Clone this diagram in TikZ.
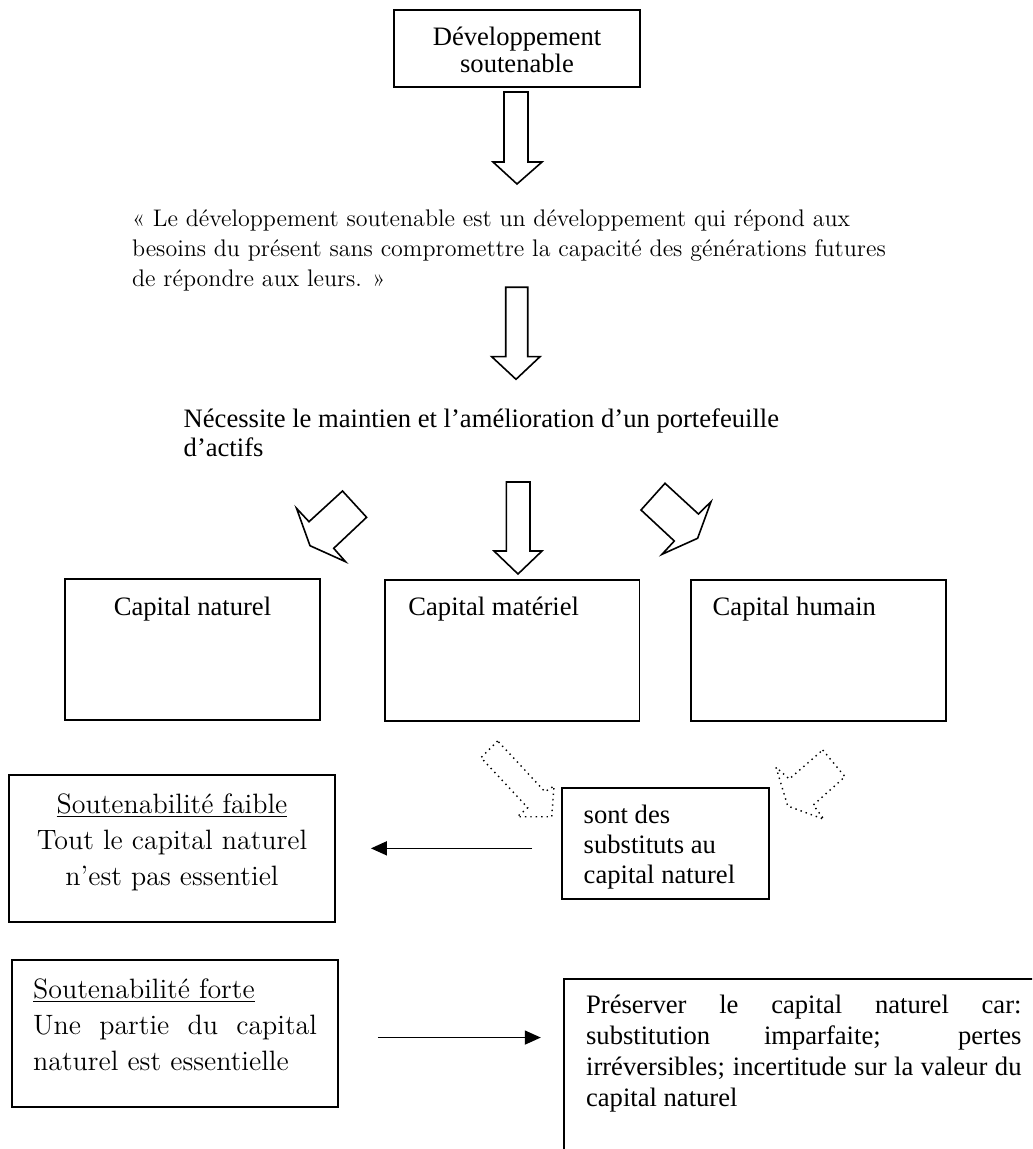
\documentclass[tikz,border=0pt]{standalone}
\usepackage{fontspec}
\usepackage{tikz}
\usetikzlibrary{arrows.meta,fit}
\newfontfamily\timesfont{Liberation Serif}

\tikzset{
  boite/.style={draw, line width=0.9pt, inner sep=0pt},
  bloc/.style={draw, line width=0.8pt, line join=miter},
  blocpoint/.style={draw, line width=0.7pt, dotted},
  fleche/.style={line width=0.8pt, -{Triangle[length=8pt,width=7pt]}},
  txt/.style={inner sep=0pt, font=\timesfont\fontsize{13.3}{15}\selectfont},
  gara/.style={inner sep=0pt, font=\fontsize{12}{15}\selectfont},
  garagros/.style={inner sep=0pt, font=\fontsize{14}{18}\selectfont},
}

\begin{document}
\begin{tikzpicture}[x=0.5pt, y=-0.5pt]
        \useasboundingbox (0,0) rectangle (1032,1149);
        % boites
        \node [boite, fit={(394,10) (640,87)}] (dev) {};
        \node [boite, fit={(65,579) (320,720)}] (naturel) {};
        \node [boite, fit={(385,580) (639.5,720.7)}] (materiel) {};
        \node [boite, fit={(690.7,580) (946,720.7)}] (humain) {};
        \node [boite, fit={(562.3,787.7) (769,899)}] (sont) {};
        \node [boite, fit={(9.3,775) (335,921.7)}] (faible) {};
        \node [boite, fit={(11.7,960) (337.7,1106.7)}] (forte) {};
        \begin{scope}
            \clip (0,0) rectangle (1032,1149);
            \node [boite, fit={(564.3,979.3) (1040,1160)}] (preserve) {};
        \end{scope}
        % textes (base = derniere ligne)
        \node [txt, anchor=base, align=center, font=\timesfont\fontsize{13.3}{13.5}\selectfont]
            (devtxt) at (517,73) {Développement\\soutenable};
        \node [gara, anchor=base west, align=left] (citation) at (131.7,287)
            {« Le développement soutenable est un développement qui répond aux\\
             besoins du présent sans compromettre la capacité des générations futures\\
             de répondre aux leurs. »};
        \node [txt, anchor=base west, align=left, font=\timesfont\fontsize{13.3}{14}\selectfont]
            (necessite) at (183.3,456)
            {Nécessite le maintien et l’amélioration d’un portefeuille\\d’actifs};
        \node [txt, anchor=base] (naturtxt) at (192.5,615) {Capital naturel};
        \node [txt, anchor=base west] (matertxt) at (408,615) {Capital matériel};
        \node [txt, anchor=base west] (humtxt) at (712.3,615) {Capital humain};
        \node [txt, anchor=base west, align=left] (sonttxt) at (583.3,883)
            {sont des\\substituts au\\capital naturel};
        \node [garagros, anchor=base, align=center] (faibletxt) at (172,885)
            {\underline{Soutenabilité faible}\\Tout le capital naturel\\n’est pas essentiel};
        % textes justifies (base = premiere ligne)
        \node [garagros, anchor=base west, text width=142pt, align=justify] (fortetxt) at (32.7,998)
            {\underline{Soutenabilité forte}\newline
             Une partie du capital\linebreak naturel est essentielle};
        \node [txt, anchor=base west, text width=217.7pt, align=justify,
               font=\timesfont\fontsize{13.3}{15.5}\selectfont] (presertxt) at (585.7,1013)
            {Préserver le capital naturel car:\linebreak
             substitution imparfaite; pertes\linebreak
             irréversibles; incertitude sur la valeur du\linebreak
             capital naturel};
        % fleches pleines
        \draw [bloc] (504,92) -- (528,92) -- (528,162) -- (542,162) -- (517,184)
            -- (493,162) -- (504,162) -- cycle;
        \draw [bloc] (505.7,287.3) -- (527.7,287.3) -- (527.7,356.7) -- (540,356.7)
            -- (516,379.3) -- (491.7,356.7) -- (505.7,356.7) -- cycle;
        \draw [bloc] (506.3,482) -- (530,482) -- (530,551) -- (542,551)
            -- (518,574) -- (494,551) -- (506.3,551) -- cycle;
        \draw [bloc] (342.5,491) -- (366.6,517.3) -- (333.7,548.3) -- (345.5,561.7)
            -- (310,545.7) -- (296.5,508.3) -- (309,521.7) -- cycle;
        \draw [bloc] (665,483.3) -- (641,510) -- (674.3,541) -- (662,554.3)
            -- (697.6,538.3) -- (711,501.7) -- (698.4,514) -- cycle;
        % fleches pointillees
        \draw [blocpoint] (497.7,741) -- (481,757.7) -- (527.7,807.7) -- (517.3,816.7)
            -- (551.7,816.7) -- (554,786) -- (545,791.7) -- cycle;
        \draw [blocpoint] (822.7,750) -- (845,776.7) -- (813.3,805) -- (824,819.3)
            -- (787.7,806) -- (776,767.3) -- (789.3,779) -- cycle;
        % fleches fines
        \draw [fleche, shorten <=14.65pt, shorten >=17.5pt] (sont.west |- faible.east) -- (faible.east);
        \coordinate (fortesortie) at ([yshift=-2.1pt]forte.east);
        \draw [fleche, shorten <=19.65pt, shorten >=11.3pt] (fortesortie) -- (fortesortie -| preserve.west);
\end{tikzpicture}
\end{document}
